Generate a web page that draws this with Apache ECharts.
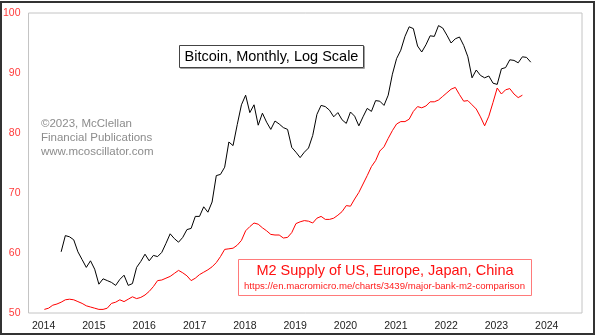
<!DOCTYPE html>
<html><head><meta charset="utf-8">
<script src="https://cdn.jsdelivr.net/npm/echarts@6/dist/echarts.min.js"></script>
<style>html,body{margin:0;padding:0;background:#fff}#c{width:600px;height:336px}</style>
</head><body><div id="c"></div>
<script>
// Tick labels
const yearTicks = [2014, 2015, 2016, 2017, 2018, 2019, 2020, 2021, 2022, 2023, 2024];
const yTicks = [50, 60, 70, 80, 90, 100];

// Monthly series (start month given as year + monthIndex/12)
const m2StartYear = 2014, m2StartMonth = 0;   // Jan 2014
const btcStartYear = 2014, btcStartMonth = 4; // May 2014

const m2Values = [
  50.6, 50.8, 51.3, 51.5, 51.8, 52.2, 52.3, 52.2, 51.9, 51.6,
  51.2, 51.0, 50.8, 50.6, 50.6, 50.8, 51.6, 51.8, 52.2, 51.9,
  52.3, 52.7, 52.4, 52.6, 53.0, 53.6, 54.4, 55.4, 55.5, 55.8,
  56.1, 56.6, 57.1, 56.7, 56.2, 55.4, 55.8, 56.4, 56.8, 57.2,
  57.7, 58.4, 59.4, 60.6, 60.7, 60.8, 61.3, 62.1, 63.7, 64.4,
  65.0, 64.8, 64.2, 63.7, 63.1, 63.0, 63.0, 62.5, 62.6, 63.4,
  64.9, 65.2, 65.4, 65.3, 65.0, 65.8, 66.1, 65.6, 65.6, 65.8,
  66.3, 66.9, 67.9, 67.8, 69.0, 70.1, 71.5, 72.9, 74.4, 75.4,
  77.0, 77.7, 79.1, 80.4, 81.5, 81.9, 81.9, 82.3, 83.6, 84.4,
  84.2, 84.5, 85.2, 85.2, 85.5, 86.1, 86.7, 87.3, 87.6, 86.4,
  85.3, 85.4, 84.7, 84.0, 82.7, 81.2, 82.8, 85.1, 87.5, 86.5,
  87.2, 87.4, 86.5, 85.9, 86.3
];

const btcValues = [
  60.2, 62.9, 62.7, 62.2, 60.2, 58.9, 57.6, 58.7, 57.3, 54.8,
  55.7, 55.4, 55.1, 54.6, 55.6, 56.3, 54.6, 54.9, 57.6, 58.6,
  59.8, 58.7, 59.6, 59.4, 60.1, 61.6, 63.2, 62.4, 61.8, 62.6,
  63.9, 64.1,
  66.1, 66.1, 67.7, 66.8, 68.5, 72.9, 73.1, 74.3, 78.5, 77.9,
  81.4, 84.7, 86.3, 83.4, 84.7, 81.3, 83.3, 81.8, 80.6, 82.0,
  81.5, 80.9, 80.6, 77.6, 76.8, 75.9, 76.8, 77.5, 79.6, 83.1,
  84.6, 84.4, 83.8,
  82.7, 83.4, 82.2, 81.6, 83.5, 82.8, 81.2, 82.7, 84.1, 83.6,
  85.4, 85.3, 84.6, 86.3, 89.8, 92.4, 93.8, 96.1, 97.7, 97.4,
  94.5, 93.5, 94.7, 96.2, 96.1, 97.9, 97.5, 96.3, 95.0,
  95.7, 96.0, 94.6, 92.7, 89.2, 90.5, 89.6, 89.2, 89.5, 88.3,
  88.1, 90.7, 90.9, 92.2, 92.1, 91.7, 92.7, 92.6, 91.8
];

const FONT = '"Liberation Sans", Arial, sans-serif';
const toPairs = (y0, m0, vals) => vals.map((v, i) => [y0 + (m0 + i) / 12 + 0.015, v]);

const chart = echarts.init(document.getElementById('c'), null, {renderer: 'canvas'});
chart.setOption({
  animation: false,
  backgroundColor: '#fff',
  grid: {left: 27, right: 18, top: 13, bottom: 23, show: true, borderColor: '#c4c4c4', borderWidth: 1},
  xAxis: {
    type: 'value', min: 2013.7, max: 2024.7,
    axisLine: {show: false}, axisTick: {show: false}, splitLine: {show: false},
    axisLabel: {customValues: yearTicks, formatter: v => String(Math.round(v)), color: '#222', fontSize: 10.5, fontFamily: FONT, margin: 8}
  },
  yAxis: {
    type: 'value', min: yTicks[0], max: yTicks[yTicks.length - 1], interval: 10,
    axisLine: {show: false}, axisTick: {show: false}, splitLine: {show: false},
    axisLabel: {color: '#ff3b3b', fontSize: 10.5, fontFamily: FONT, margin: 8}
  },
  series: [
    {type: 'line', name: 'M2', data: toPairs(m2StartYear, m2StartMonth, m2Values), showSymbol: false,
     lineStyle: {color: '#ff0000', width: 1}, itemStyle: {color: '#ff0000'}, z: 2},
    {type: 'line', name: 'Bitcoin', data: toPairs(btcStartYear, btcStartMonth, btcValues), showSymbol: false,
     lineStyle: {color: '#000000', width: 1}, itemStyle: {color: '#000'}, z: 3}
  ],
  graphic: [
    {type: 'rect', shape: {x: 1, y: 2, width: 593, height: 332}, style: {fill: 'none', stroke: '#333', lineWidth: 2}, z: 100},
    {type: 'text', style: {x: 41, y: 123.5, text: '©2023, McClellan', fill: '#8c8c8c', font: '11.5px ' + FONT, verticalAlign: 'middle'}, z: 50},
    {type: 'text', style: {x: 41, y: 137.5, text: 'Financial Publications', fill: '#8c8c8c', font: '11.5px ' + FONT, verticalAlign: 'middle'}, z: 50},
    {type: 'text', style: {x: 41, y: 151.5, text: 'www.mcoscillator.com', fill: '#8c8c8c', font: '11.5px ' + FONT, verticalAlign: 'middle'}, z: 50},
    {type: 'rect', shape: {x: 180.5, y: 46.5, width: 184, height: 22}, style: {fill: 'none', stroke: '#a0a0a0', lineWidth: 1}, z: 50},
    {type: 'rect', shape: {x: 179.5, y: 45.5, width: 184, height: 22}, style: {fill: '#fff', stroke: '#444', lineWidth: 1}, z: 51},
    {type: 'text', style: {x: 271.5, y: 57, text: 'Bitcoin, Monthly, Log Scale', fill: '#000', font: '14.5px ' + FONT, align: 'center', verticalAlign: 'middle'}, z: 52},
    {type: 'rect', shape: {x: 238.5, y: 259.5, width: 293, height: 36}, style: {fill: '#fff', stroke: '#ff7a7a', lineWidth: 1}, z: 51},
    {type: 'text', style: {x: 385, y: 270.5, text: 'M2 Supply of US, Europe, Japan, China', fill: '#ff1010', font: '14.5px ' + FONT, align: 'center', verticalAlign: 'middle'}, z: 52},
    {type: 'text', style: {x: 384.5, y: 286, text: 'https://en.macromicro.me/charts/3439/major-bank-m2-comparison', fill: '#ff2020', font: '9.6px ' + FONT, align: 'center', verticalAlign: 'middle'}, z: 52}
  ]
});
</script></body></html>
